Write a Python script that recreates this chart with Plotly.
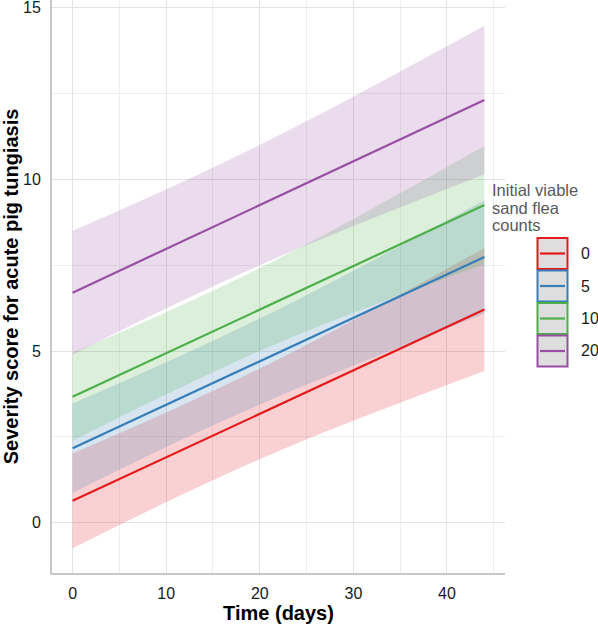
import plotly.graph_objects as go

# ---- data ----
time = [0, 12, 24, 44]
counts = ["0", "5", "10", "20"]
fit = {
    "0": [0.64, 2.16, 3.68, 6.21],
    "5": [2.17, 3.69, 5.20, 7.74],
    "10": [3.67, 5.19, 6.72, 9.25],
    "20": [6.70, 8.23, 9.76, 12.31],
}
lower = {
    "0": [-0.74, 0.86, 2.32, 4.42],
    "5": [0.87, 2.46, 3.91, 6.09],
    "10": [2.39, 4.00, 5.47, 7.53],
    "20": [4.90, 6.50, 7.97, 10.15],
}
upper = {
    "0": [2.02, 3.46, 5.04, 8.00],
    "5": [3.47, 4.92, 6.49, 9.39],
    "10": [4.95, 6.38, 7.97, 10.97],
    "20": [8.50, 9.96, 11.55, 14.47],
}
colors = {"0": "#E41A1C", "5": "#377EB8", "10": "#4DAF4A", "20": "#984EA3"}
fills = {"0": "rgba(228,26,28,0.2)", "5": "rgba(55,126,184,0.2)",
         "10": "rgba(77,175,74,0.2)", "20": "rgba(152,78,163,0.2)"}

W, H = 598, 625
L, R, T, B = 52, 505, 0, 573  # plot area in pixels

def px(x):
    return (x - L) / (R - L)

def py(y):
    return (B - y) / (B - T)

fig = go.Figure()
for c in counts:
    fig.add_trace(go.Scatter(x=time, y=lower[c], mode="lines",
                             line=dict(width=0, shape="spline", smoothing=1.0),
                             showlegend=False, hoverinfo="skip"))
    fig.add_trace(go.Scatter(x=time, y=upper[c], mode="lines",
                             line=dict(width=0, shape="spline", smoothing=1.0),
                             fill="tonexty", fillcolor=fills[c], showlegend=False,
                             hoverinfo="skip"))
for c in counts:
    fig.add_trace(go.Scatter(x=time, y=fit[c], mode="lines",
                             line=dict(color=colors[c], width=2.2), showlegend=False))

font = "Liberation Sans, Arial, sans-serif"
shapes = []
annotations = []
# legend title
for i, t in enumerate(["Initial viable", "sand flea", "counts"]):
    annotations.append(dict(x=px(490), y=py(190 + i * 17.5), xref="paper", yref="paper",
                            text=t, showarrow=False, xanchor="left", yanchor="middle",
                            font=dict(family=font, size=16.5, color="#595959")))
# legend keys
for i, c in enumerate(counts):
    top = 238 + i * 32.5
    bot = top + 31
    shapes.append(dict(type="rect", xref="paper", yref="paper",
                       x0=px(537.5), x1=px(567.5), y0=py(bot), y1=py(top),
                       fillcolor="#dedede", line=dict(color=colors[c], width=2)))
    shapes.append(dict(type="line", xref="paper", yref="paper",
                       x0=px(540), x1=px(565), y0=py((top + bot) / 2), y1=py((top + bot) / 2),
                       line=dict(color=colors[c], width=2.2)))
    annotations.append(dict(x=px(579), y=py((top + bot) / 2), xref="paper", yref="paper",
                            text=c, showarrow=False, xanchor="left", yanchor="middle",
                            font=dict(family=font, size=16, color="#1a1a1a")))

fig.update_layout(
    width=W, height=H,
    margin=dict(l=L, r=W - R, t=T, b=H - B),
    plot_bgcolor="white", paper_bgcolor="white",
    font=dict(family=font, size=16, color="#1a1a1a"),
    showlegend=False,
    shapes=shapes, annotations=annotations,
    xaxis=dict(range=[-2.2, 46.2], tickvals=[0, 10, 20, 30, 40], showgrid=True,
               gridcolor="#e3e3e3", gridwidth=1.3,
               minor=dict(dtick=5, tick0=0, showgrid=True, gridcolor="#eeeeee", gridwidth=1),
               showline=True, linecolor="#c8c8c8", linewidth=2, zeroline=False,
               ticks="outside", ticklen=5, tickcolor="rgba(0,0,0,0)",
               tickfont=dict(size=16, color="#1a1a1a"),
               title=dict(text="<b>Time (days)</b>", font=dict(size=20, color="black"), standoff=4)),
    yaxis=dict(range=[-1.46, 15.22], tickvals=[0, 5, 10, 15], showgrid=True,
               gridcolor="#e3e3e3", gridwidth=1.3,
               minor=dict(dtick=2.5, tick0=0, showgrid=True, gridcolor="#eeeeee", gridwidth=1),
               showline=True, linecolor="#c8c8c8", linewidth=2, zeroline=False,
               ticks="outside", ticklen=6, tickcolor="rgba(0,0,0,0)",
               ticklabeloverflow="allow",
               tickfont=dict(size=16, color="#1a1a1a"),
               title=dict(text="<b>Severity score for acute pig tungiasis</b>",
                          font=dict(size=20, color="black"), standoff=6)),
)

fig.write_html("out.html")
